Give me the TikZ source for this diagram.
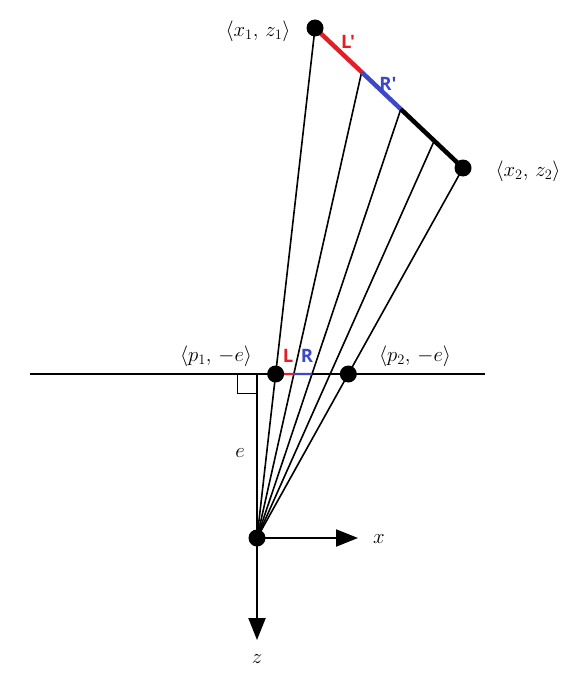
\documentclass[tikz,border=0pt]{standalone}
\usepackage{fontspec}
\newfontfamily\lblfont{Open Sans}
\usetikzlibrary{arrows.meta,calc}
\definecolor{lred}{RGB}{228,30,38}
\definecolor{lblue}{RGB}{60,72,200}
\begin{document}
\begin{tikzpicture}[x=1pt,y=-1pt,
  fan/.style={line width=1.6pt},
  seg/.style={line width=4.5pt},
  hline/.style={line width=2.2pt},
  dot/.style={circle,fill=black,inner sep=0pt,minimum size=17pt},
  mlabel/.style={font=\fontsize{21.5}{24}\selectfont,inner sep=0pt},
  clabel/.style={font=\lblfont\bfseries\fontsize{18.5}{20}\selectfont,inner sep=0pt},
  axis/.style={line width=2.2pt,-{Triangle[length=22pt,width=17pt]}}]
\useasboundingbox (0,0) rectangle (581,674);
\coordinate (O) at (257,538);
\coordinate (A) at (315,28);
\coordinate (B) at (463,168);
\coordinate (H1) at (30,374);
\coordinate (H2) at (485,374);
\coordinate (V) at (257,374);
\coordinate (P1) at (intersection of O--A and H1--H2);
\coordinate (P2) at (intersection of O--B and H1--H2);
\coordinate (Q1) at ($(P1)!0.25!(P2)$);
\coordinate (Q2) at ($(P1)!0.5!(P2)$);
\coordinate (Q3) at ($(P1)!0.75!(P2)$);
\coordinate (S1) at (intersection of O--Q1 and A--B);
\coordinate (S2) at (intersection of O--Q2 and A--B);
\coordinate (S3) at (intersection of O--Q3 and A--B);
\coordinate (X) at (358,538);
\coordinate (Z) at (257,640);
% fan
\draw[fan] (O) -- (A);
\draw[fan] (O) -- (S1);
\draw[fan] (O) -- (S2);
\draw[fan] (O) -- (S3);
\draw[fan] (O) -- (B);
% segment
\draw[seg,lred] (A) -- (S1);
\draw[seg,lblue] (S1) -- (S2);
\draw[seg,black] (S2) -- (B);
% horizontal line
\draw[hline] (H1) -- (H2);
\draw[hline,lred] (P1) -- (Q1);
\draw[hline,lblue] (Q1) -- (Q2);
% vertical and right angle
\draw[hline] (O) -- (V);
\draw[line width=1pt] ($(V)+(-20,0)$) -- ++(0,19) -- ++(20,0);
% axes
\draw[axis] (O) -- (X);
\draw[axis] (O) -- (Z);
% dots
\node[dot] (dA) at (A) {};
\node[dot] (dB) at (B) {};
\node[dot] (dP1) at (P1) {};
\node[dot] (dP2) at (P2) {};
\node[dot] (dO) at (O) {};
% labels
\node[mlabel] (lA) at (258,31) {$\langle x_1,\,z_1\rangle$};
\node[mlabel] (lB) at (528,171) {$\langle x_2,\,z_2\rangle$};
\node[mlabel] (lP1) at (216,356) {$\langle p_1,\,-e\rangle$};
\node[mlabel] (lP2) at (415,356) {$\langle p_2,\,-e\rangle$};
\node[mlabel] (le) at (240,453) {$e$};
\node[mlabel] (lx) at (379,539) {$x$};
\node[mlabel] (lz) at (257,659) {$z$};
\node[clabel,text=lred] (lL1) at (348,42) {L'};
\node[clabel,text=lblue] (lR1) at (388,84) {R'};
\node[clabel,text=lred] (lL) at (288,356) {L};
\node[clabel,text=lblue] (lR) at (307,356) {R};
\end{tikzpicture}
\end{document}
